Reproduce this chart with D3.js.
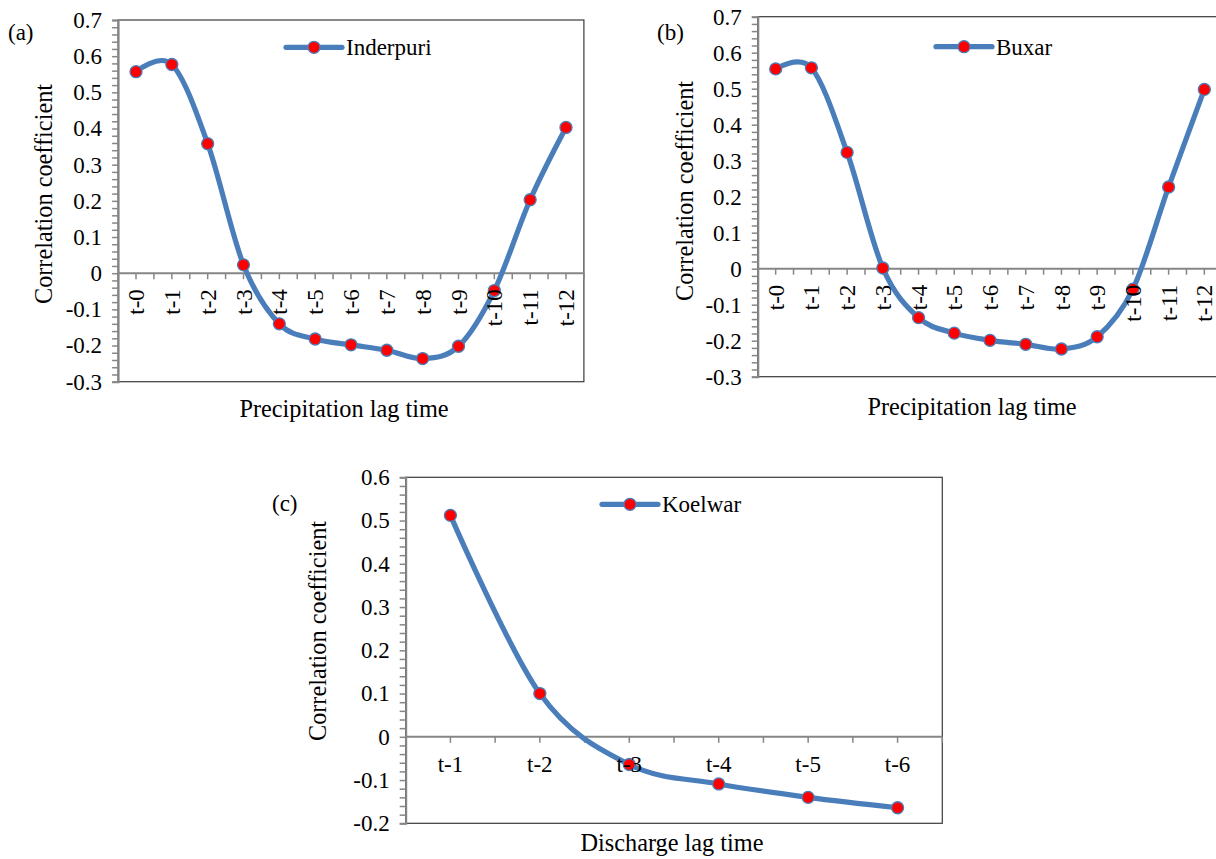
<!DOCTYPE html>
<html>
<head>
<meta charset="utf-8">
<script src="https://cdn.jsdelivr.net/npm/d3@7"></script>
<style>
  html, body { margin: 0; padding: 0; background: #fff; }
  svg { display: block; }
  text { font-family: "Liberation Serif", "Times New Roman", Times, serif; fill: #000; }
</style>
</head>
<body>
<svg id="chart" width="1216" height="859" font-family="Liberation Serif, Times New Roman, serif"></svg>
<script>
// ---------------- data ----------------
const precipCategories = ["t-0","t-1","t-2","t-3","t-4","t-5","t-6","t-7","t-8","t-9","t-10","t-11","t-12"];
const inderpuriValues = [0.557, 0.577, 0.358, 0.023, -0.140, -0.182, -0.198, -0.213, -0.236, -0.202, -0.048, 0.203, 0.403];
const buxarValues = [0.555, 0.558, 0.323, 0.002, -0.136, -0.179, -0.199, -0.210, -0.223, -0.189, -0.057, 0.227, 0.498];
const dischargeCategories = ["t-1","t-2","t-3","t-4","t-5","t-6"];
const koelwarValues = [0.512, 0.100, -0.064, -0.109, -0.140, -0.164];
const yTicksAB = [-0.3,-0.2,-0.1,0,0.1,0.2,0.3,0.4,0.5,0.6,0.7];
const yTicksC = [-0.2,-0.1,0,0.1,0.2,0.3,0.4,0.5,0.6];
const yTickLabelsAB = ["-0.3","-0.2","-0.1","0","0.1","0.2","0.3","0.4","0.5","0.6","0.7"];
const yTickLabelsC = ["-0.2","-0.1","0","0.1","0.2","0.3","0.4","0.5","0.6"];

// ---------------- style ----------------
const LINE_COLOR = "#4A7EBB";
const AXIS_GRAY = "#868686";
const FONT = 23;
const TITLE_FONT = 24.3;

const svg = d3.select("#chart");

const panels = [
  { id: "a", label: "(a)", labelPos: [8, 40], cats: precipCategories, values: inderpuriValues,
    yTicks: yTicksAB, yLabels: yTickLabelsAB, yDomain: [-0.3, 0.7],
    left: 118.1, right: 583.9, top: 20, bottom: 381.7, rotate: true,
    name: "Inderpuri", legend: { x1: 286, x2: 342, y: 47.3 },
    xTitle: "Precipitation lag time", xTitlePos: [344, 417], yTitlePos: [52, 194] },
  { id: "b", label: "(b)", labelPos: [657, 40], cats: precipCategories, values: buxarValues,
    yTicks: yTicksAB, yLabels: yTickLabelsAB, yDomain: [-0.3, 0.7],
    left: 757.8, right: 1222.2, top: 16.7, bottom: 376.7, rotate: true,
    name: "Buxar", legend: { x1: 936, x2: 992, y: 46.7 },
    xTitle: "Precipitation lag time", xTitlePos: [972, 415], yTitlePos: [693, 191] },
  { id: "c", label: "(c)", labelPos: [272, 511], cats: dischargeCategories, values: koelwarValues,
    yTicks: yTicksC, yLabels: yTickLabelsC, yDomain: [-0.2, 0.6],
    left: 405.7, right: 942.3, top: 477.3, bottom: 823.3, rotate: false,
    name: "Koelwar", legend: { x1: 602, x2: 658, y: 504.3 },
    xTitle: "Discharge lag time", xTitlePos: [672, 851], yTitlePos: [326, 631] }
];

panels.forEach(p => {
  const g = svg.append("g").attr("class", "panel-" + p.id);
  const x = d3.scaleBand().domain(p.cats).range([p.left, p.right]).paddingInner(0).paddingOuter(0);
  const y = d3.scaleLinear().domain(p.yDomain).range([p.bottom, p.top]);
  const cx = d => x(d) + x.bandwidth() / 2;
  const y0 = y(0);

  // plot area border
  g.append("rect")
    .attr("x", p.left).attr("y", p.top)
    .attr("width", p.right - p.left).attr("height", p.bottom - p.top)
    .attr("fill", "#fff").attr("stroke", "#3a3a3a").attr("stroke-width", 1.2);

  // y axis: major + minor ticks
  const minorStep = 0.02;
  const nMinor = Math.round((p.yDomain[1] - p.yDomain[0]) / minorStep);
  const minorTicks = d3.range(nMinor + 1).map(i => p.yDomain[0] + i * minorStep);
  const yAxis = d3.axisLeft(y).tickValues(minorTicks).tickSize(6).tickFormat("");
  const yg = g.append("g").attr("transform", `translate(${p.left},0)`).call(yAxis);
  yg.selectAll("path, line").attr("stroke", AXIS_GRAY).attr("stroke-width", 1.5);
  yg.select("path").attr("stroke-width", 2);

  // y tick labels
  g.selectAll(".ylab").data(p.yTicks).enter().append("text")
    .attr("x", p.left - 16).attr("y", d => y(d)).attr("dy", "0.34em")
    .attr("text-anchor", "end").attr("font-size", FONT)
    .text((d, i) => p.yLabels[i]);

  // x axis at zero: ticks at category boundaries and centres
  const boundaries = d3.range(p.cats.length + 1).map(i => p.left + i * x.bandwidth());
  const centres = p.cats.map(cx);
  const xt = boundaries.concat(centres);
  g.append("line").attr("x1", p.left).attr("x2", p.right).attr("y1", y0).attr("y2", y0)
    .attr("stroke", AXIS_GRAY).attr("stroke-width", 2);
  g.selectAll(".xtick").data(xt).enter().append("line")
    .attr("x1", d => d).attr("x2", d => d).attr("y1", y0).attr("y2", y0 + 6)
    .attr("stroke", AXIS_GRAY).attr("stroke-width", 1.5);

  // series
  const line = d3.line().x((d, i) => cx(p.cats[i])).y(d => y(d)).curve(d3.curveCardinal.tension(0));
  g.append("path").datum(p.values).attr("d", line)
    .attr("fill", "none").attr("stroke", LINE_COLOR).attr("stroke-width", 5.2)
    .attr("stroke-linecap", "round").attr("stroke-linejoin", "round");
  g.selectAll(".pt").data(p.values).enter().append("circle")
    .attr("cx", (d, i) => cx(p.cats[i])).attr("cy", d => y(d)).attr("r", 6)
    .attr("fill", "#FF0000").attr("stroke", LINE_COLOR).attr("stroke-width", 1.3);

  // x labels
  if (p.rotate) {
    g.selectAll(".xlab").data(p.cats).enter().append("text")
      .attr("transform", d => `translate(${cx(d)},${y0 + 16}) rotate(-90)`)
      .attr("dy", "0.35em").attr("text-anchor", "end").attr("font-size", FONT)
      .text(d => d);
  } else {
    g.selectAll(".xlab").data(p.cats).enter().append("text")
      .attr("x", d => cx(d)).attr("y", y0 + 35)
      .attr("text-anchor", "middle").attr("font-size", FONT)
      .text(d => d);
  }

  // titles
  g.append("text").attr("x", p.xTitlePos[0]).attr("y", p.xTitlePos[1])
    .attr("text-anchor", "middle").attr("font-size", TITLE_FONT).text(p.xTitle);
  g.append("text").attr("transform", `translate(${p.yTitlePos[0]},${p.yTitlePos[1]}) rotate(-90)`)
    .attr("text-anchor", "middle").attr("font-size", TITLE_FONT).text("Correlation coefficient");
  g.append("text").attr("x", p.labelPos[0]).attr("y", p.labelPos[1])
    .attr("font-size", FONT).text(p.label);

  // legend
  const L = p.legend;
  g.append("line").attr("x1", L.x1).attr("x2", L.x2).attr("y1", L.y).attr("y2", L.y)
    .attr("stroke", LINE_COLOR).attr("stroke-width", 5.2).attr("stroke-linecap", "round");
  g.append("circle").attr("cx", (L.x1 + L.x2) / 2).attr("cy", L.y).attr("r", 6)
    .attr("fill", "#FF0000").attr("stroke", LINE_COLOR).attr("stroke-width", 1.3);
  g.append("text").attr("x", L.x2 + 4).attr("y", L.y).attr("dy", "0.34em")
    .attr("font-size", FONT).text(p.name);
});
</script>
</body>
</html>
